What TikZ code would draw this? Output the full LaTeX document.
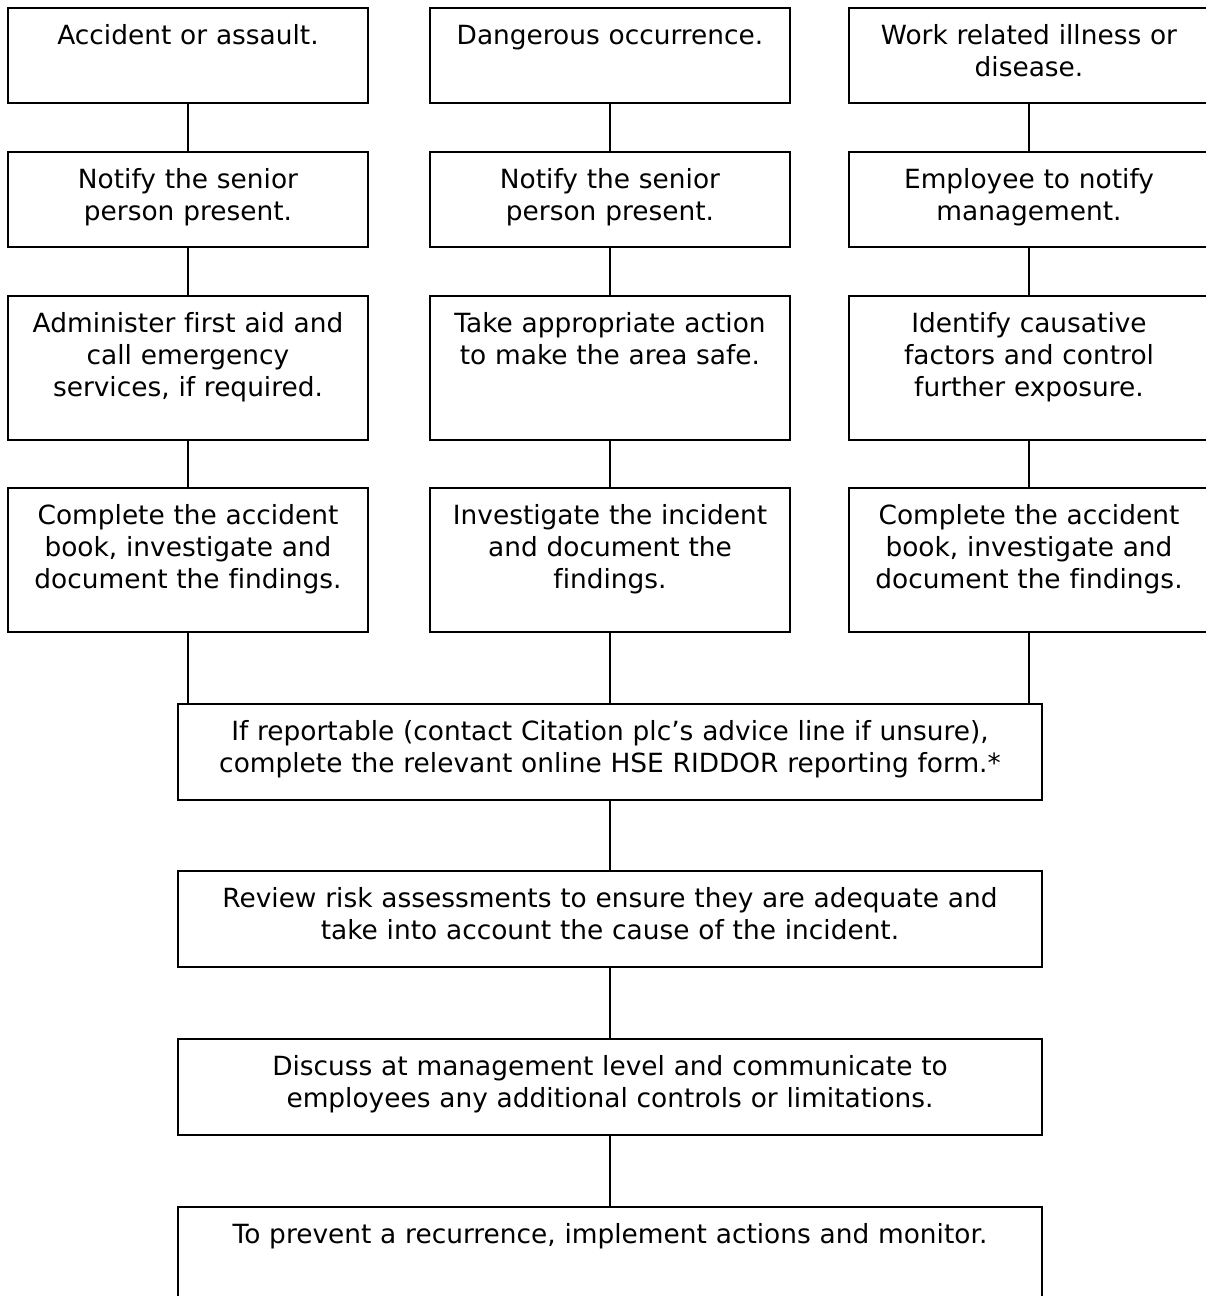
\documentclass[tikz,border=0pt]{standalone}
\usepackage{fontspec}
\setmainfont[Ligatures=NoCommon]{DejaVu Sans}
\usepackage{tikz}

\begin{document}
\begin{tikzpicture}[x=0.75pt, y=-0.75pt,
    stepbox/.style={draw, line width=1.15pt, anchor=north, inner sep=0pt,
      text width=270pt, align=center, text height=27.75pt,
      font=\fontsize{19.8}{24}\selectfont},
    widebox/.style={stepbox, text width=648pt},
    short/.style={text depth=43.5pt},
    tall/.style={text depth=80.25pt},
    link/.style={line width=1.15pt}]
    \useasboundingbox (0,0) rectangle (1206,1296);
    % first column
    \node[stepbox, short] (a1) at (188,7) {Accident or assault.};
    \node[stepbox, short] (a2) at (188,151) {Notify the senior\\ person present.};
    \node[stepbox, tall] (a3) at (188,295) {Administer first aid and\\ call emergency\\ services, if required.};
    \node[stepbox, tall] (a4) at (188,487) {Complete the accident\\ book, investigate and\\ document the findings.};
    % second column
    \node[stepbox, short] (b1) at (610,7) {Dangerous occurrence.};
    \node[stepbox, short] (b2) at (610,151) {Notify the senior\\ person present.};
    \node[stepbox, tall] (b3) at (610,295) {Take appropriate action\\ to make the area safe.};
    \node[stepbox, tall] (b4) at (610,487) {Investigate the incident\\ and document the\\ findings.};
    % third column
    \node[stepbox, short] (c1) at (1029,7) {Work related illness or\\ disease.};
    \node[stepbox, short] (c2) at (1029,151) {Employee to notify\\ management.};
    \node[stepbox, tall] (c3) at (1029,295) {Identify causative\\ factors and control\\ further exposure.};
    \node[stepbox, tall] (c4) at (1029,487) {Complete the accident\\ book, investigate and\\ document the findings.};
    % common steps
    \node[widebox, text depth=44.25pt] (rep) at (610,703) {If reportable (contact Citation plc’s advice line if unsure),\\ complete the relevant online HSE RIDDOR reporting form.*};
    \node[widebox, text depth=44.25pt] (rev) at (610,870) {Review risk assessments to ensure they are adequate and\\ take into account the cause of the incident.};
    \node[widebox, text depth=44.25pt] (disc) at (610,1038) {Discuss at management level and communicate to\\ employees any additional controls or limitations.};
    \node[widebox, tall] (prev) at (610,1206) {To prevent a recurrence, implement actions and monitor.};
    \draw[link] (a1) to (a2);
    \draw[link] (a2) to (a3);
    \draw[link] (a3) to (a4);
    \draw[link] (b1) to (b2);
    \draw[link] (b2) to (b3);
    \draw[link] (b3) to (b4);
    \draw[link] (c1) to (c2);
    \draw[link] (c2) to (c3);
    \draw[link] (c3) to (c4);
    \draw[link] (a4.south) to (a4.south |- rep.north);
    \draw[link] (b4) to (rep);
    \draw[link] (c4.south) to (c4.south |- rep.north);
    \draw[link] (rep) to (rev);
    \draw[link] (rev) to (disc);
    \draw[link] (disc) to (prev);
  \end{tikzpicture}
\end{document}
